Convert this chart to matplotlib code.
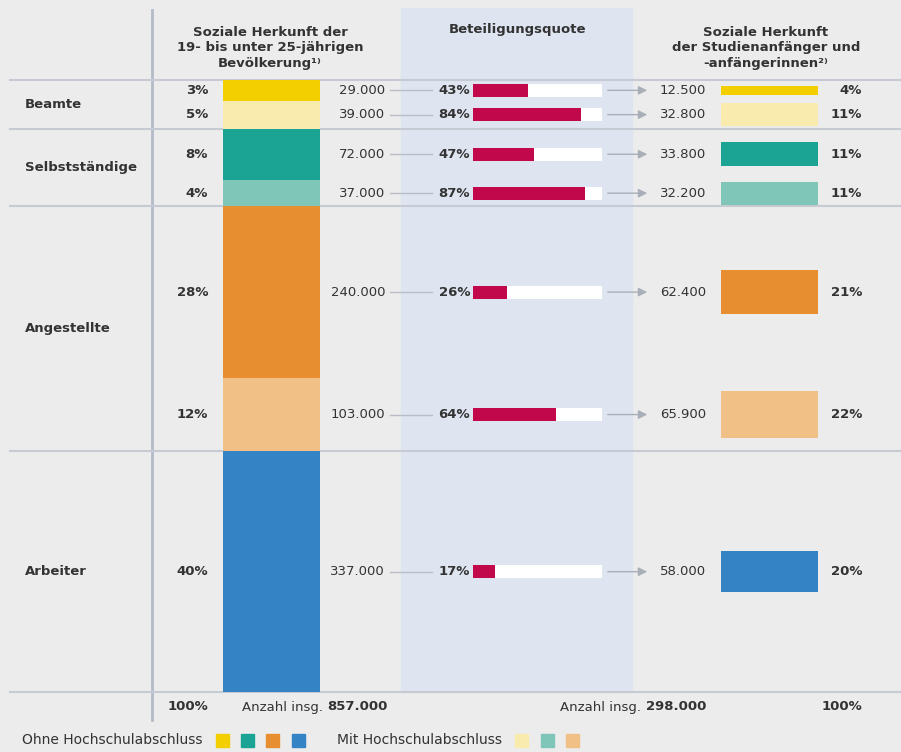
import numpy as np
import matplotlib
matplotlib.use('Agg')
import matplotlib.pyplot as plt
from matplotlib.patches import Rectangle

# data (counts in thousands)
groups = ['Beamte', 'Selbstständige', 'Angestellte', 'Arbeiter']
seg_group = [0, 0, 1, 1, 2, 2, 3]
pop_count = [29, 39, 72, 37, 240, 103, 337]
pop_share = [3, 5, 8, 4, 28, 12, 40]
quote = [43, 84, 47, 87, 26, 64, 17]
stud_count = [12.5, 32.8, 33.8, 32.2, 62.4, 65.9, 58.0]
stud_share = [4, 11, 11, 11, 21, 22, 20]
seg_colors = ['#f3cf00', '#f9ebae', '#1ba393', '#80c6b8', '#e78e31', '#f1c086', '#3483c5']
pop_total = '857.000'
stud_total = '298.000'

BG = '#ececec'
TXT = '#333333'
LINE = '#c6cbd3'
RED = '#c1084a'
SHADE = '#dee5f1'

plt.rcParams['font.family'] = ['DejaVu Sans']

fig = plt.figure(figsize=(9.01, 7.52), dpi=100, facecolor=BG)
ax = fig.add_axes([0, 0, 1, 1])
ax.set_facecolor(BG)
ax.set_axis_off()

# y in thousands, mapped so that total fills the table body
top_px, bot_px = 80, 692
total = sum(pop_count)
s = (bot_px - top_px) / total
def py(px):
    return (px - top_px) / s
ax.set_xlim(0, 901)
ax.set_ylim(py(752), py(0))

cum = np.concatenate([[0], np.cumsum(pop_count)])
centers = (cum[:-1] + cum[1:]) / 2

# shaded column
ax.add_patch(Rectangle((401, py(8)), 231, total - py(8), color=SHADE, zorder=0))

# vertical rule
ax.plot([152, 152], [py(10), py(720)], color='#b3bbc7', lw=2, zorder=1)

# group separators
ax.plot([10, 901], [0, 0], color=LINE, lw=1.5, zorder=1)
for g in range(len(groups)):
    idx = [i for i, gg in enumerate(seg_group) if gg == g]
    lo, hi = cum[idx[0]], cum[idx[-1] + 1]
    ax.plot([10, 901], [hi, hi], color=LINE, lw=1.5, zorder=1)
    ax.text(25, (lo + hi) / 2, groups[g], ha='left', va='center',
            fontsize=9.5, weight='bold', color=TXT)

# left stacked bar
ax.bar(271.5, pop_count, width=97, bottom=cum[:-1], color=seg_colors, zorder=2)

bar_x0, bar_w = 473, 129
for i, c in enumerate(centers):
    ax.text(208, c, f'{pop_share[i]}%', ha='right', va='center',
            fontsize=9.5, weight='bold', color=TXT)
    ax.text(385, c, f'{pop_count[i] * 1000:,}'.replace(',', '.'), ha='right',
            va='center', fontsize=9.5, color=TXT)
    ax.plot([390, 432], [c, c], color='#b9bec6', lw=1, zorder=1)
    ax.text(470, c, f'{quote[i]}%', ha='right', va='center',
            fontsize=9.5, weight='bold', color=TXT)
    h = 13 / s
    ax.barh(c, bar_w, left=bar_x0, height=h, color='white', zorder=2)
    ax.barh(c, bar_w * quote[i] / 100, left=bar_x0, height=h, color=RED, zorder=3)
    ax.annotate('', xy=(650, c), xytext=(605, c),
                arrowprops=dict(arrowstyle='-|>', color='#a9afb8', lw=1,
                                mutation_scale=13))
    ax.text(706, c, f'{int(round(stud_count[i] * 1000)):,}'.replace(',', '.'),
            ha='right', va='center', fontsize=9.5, color=TXT)
    ax.barh(c, 97, left=721, height=stud_count[i], color=seg_colors[i], zorder=2)
    ax.text(862, c, f'{stud_share[i]}%', ha='right', va='center',
            fontsize=9.5, weight='bold', color=TXT)

# headers
ax.text(270, py(48), 'Soziale Herkunft der\n19- bis unter 25-jährigen\nBevölkerung¹⁾',
        ha='center', va='center', fontsize=9.5, weight='bold', color=TXT,
        linespacing=1.25)
ax.text(517, py(30), 'Beteiligungsquote', ha='center', va='center',
        fontsize=9.5, weight='bold', color=TXT)
ax.text(766, py(48), 'Soziale Herkunft\nder Studienanfänger und\n-anfängerinnen²⁾',
        ha='center', va='center', fontsize=9.5, weight='bold', color=TXT,
        linespacing=1.25)

# totals row
yb = py(707)
ax.text(208, yb, '100%', ha='right', va='center', fontsize=9.5, weight='bold', color=TXT)
t1 = ax.text(388, yb, pop_total, ha='right', va='center', fontsize=9.5,
             weight='bold', color=TXT)
ax.annotate('Anzahl insg. ', xy=(0, 0), xycoords=t1, ha='right', va='bottom',
            fontsize=9.5, color=TXT)
t2 = ax.text(706, yb, stud_total, ha='right', va='center', fontsize=9.5,
             weight='bold', color=TXT)
ax.annotate('Anzahl insg. ', xy=(0, 0), xycoords=t2, ha='right', va='bottom',
            fontsize=9.5, color=TXT)
ax.text(862, yb, '100%', ha='right', va='center', fontsize=9.5, weight='bold', color=TXT)

# legend
yl = py(740)
sq = 13
ax.text(22, yl, 'Ohne Hochschulabschluss', ha='left', va='center', fontsize=10, color=TXT)
for k, xs in enumerate([216, 241, 266, 292]):
    ax.add_patch(Rectangle((xs, yl - sq / 2 / s), sq, sq / s,
                           color=seg_colors[[0, 2, 4, 6][k]]))
ax.text(337, yl, 'Mit Hochschulabschluss', ha='left', va='center', fontsize=10, color=TXT)
for k, xs in enumerate([515, 541, 566]):
    ax.add_patch(Rectangle((xs, yl - sq / 2 / s), sq, sq / s,
                           color=seg_colors[[1, 3, 5][k]]))

fig.savefig('out.png', dpi=100, facecolor=BG)
